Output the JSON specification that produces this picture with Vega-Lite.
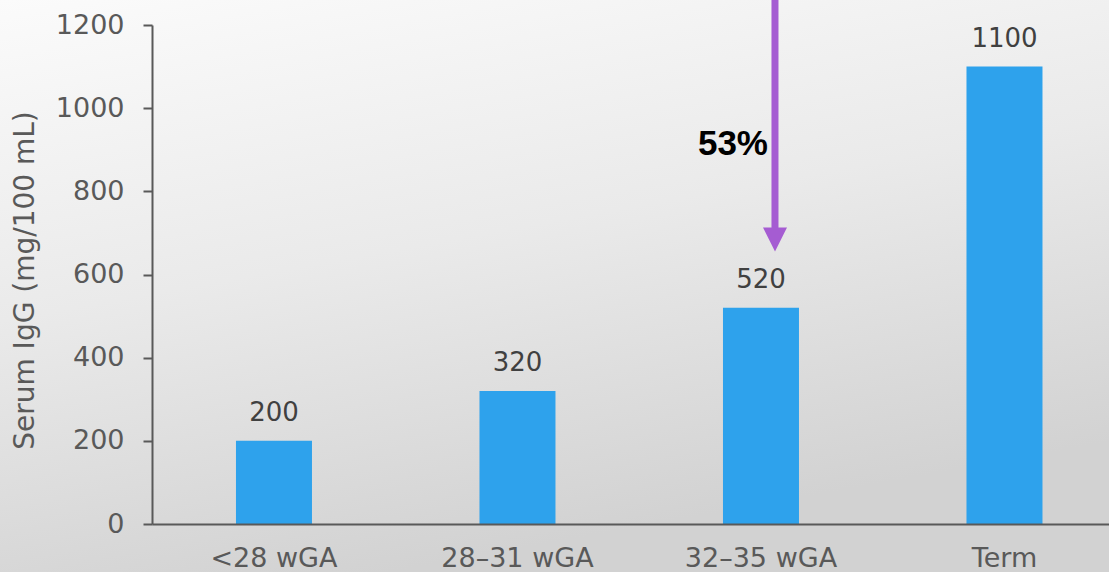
{
  "$schema": "https://vega.github.io/schema/vega-lite/v6.json",
  "width": 1109,
  "height": 499,
  "autosize": {"type": "none"},
  "padding": {"left": 0, "right": 0, "top": 25, "bottom": 48},
  "background": "#e6e6e6",
  "config": {"view": {"stroke": null}},
  "datasets": {
    "bars": [
      {"group": "<28 wGA", "igg": 200},
      {"group": "28–31 wGA", "igg": 320},
      {"group": "32–35 wGA", "igg": 520},
      {"group": "Term", "igg": 1100}
    ],
    "note": [
      {"group": "32–35 wGA", "label": "53%"}
    ],
    "bg": [
      {"part": "background"}
    ]
  },
  "resolve": {"scale": {"x": "shared", "y": "shared"}},
  "layer": [
    {
      "data": {"name": "bg"},
      "mark": {
        "type": "rect",
        "color": {
          "gradient": "linear",
          "x1": 0, "y1": 0, "x2": 0.35, "y2": 1,
          "stops": [
            {"offset": 0, "color": "#fbfbfb"},
            {"offset": 0.5, "color": "#eaeaea"},
            {"offset": 1, "color": "#d2d2d2"}
          ]
        }
      },
      "encoding": {
        "y": {"datum": 1262, "type": "quantitative", "scale": {"domain": [0, 1200], "nice": false}},
        "y2": {"datum": -116}
      }
    },
    {
      "data": {"name": "bars"},
      "mark": {"type": "bar", "color": "#2ea2ec"},
      "encoding": {
        "x": {
          "field": "group", "type": "nominal", "sort": null,
          "scale": {
            "domain": ["<28 wGA", "28–31 wGA", "32–35 wGA", "Term"],
            "range": [152, 1109],
            "paddingInner": 0.6879, "paddingOuter": 0.309, "align": 0.558, "round": false
          },
          "axis": {
            "title": null, "zindex": 1, "labelAngle": 0,
            "domain": true, "domainColor": "#595959", "domainWidth": 2,
            "ticks": false, "tickSize": 0, "labelPadding": 21,
            "labelFont": "DejaVu Sans", "labelFontSize": 27, "labelColor": "#595959"
          }
        },
        "y": {
          "field": "igg", "type": "quantitative",
          "scale": {"domain": [0, 1200], "nice": false},
          "axis": {
            "title": "Serum IgG (mg/100 mL)", "zindex": 1, "offset": -152, "format": "d",
            "values": [0, 200, 400, 600, 800, 1000, 1200], "grid": false,
            "domain": true, "domainColor": "#595959", "domainWidth": 2,
            "ticks": true, "tickColor": "#595959", "tickWidth": 2, "tickSize": 9,
            "labelPadding": 19, "labelFont": "DejaVu Sans", "labelFontSize": 27, "labelColor": "#595959",
            "titleFont": "DejaVu Sans", "titleFontSize": 28, "titleFontWeight": "normal", "titleColor": "#595959",
            "titleX": -119, "titleY": 255, "titleAngle": -90, "titleAlign": "center", "titleBaseline": "alphabetic"
          }
        }
      }
    },
    {
      "data": {"name": "bars"},
      "mark": {"type": "text", "baseline": "alphabetic", "align": "center", "dy": -19.5, "font": "DejaVu Sans", "fontSize": 26, "color": "#404040"},
      "encoding": {
        "x": {"field": "group", "type": "nominal", "sort": null},
        "y": {"field": "igg", "type": "quantitative"},
        "text": {"field": "igg", "type": "quantitative"}
      }
    },
    {
      "data": {"name": "note"},
      "mark": {"type": "rule", "color": "#a55cd2", "strokeWidth": 7, "xOffset": 14},
      "encoding": {
        "x": {"field": "group", "type": "nominal", "sort": null},
        "y": {"datum": 1262, "type": "quantitative"},
        "y2": {"datum": 711}
      }
    },
    {
      "data": {"name": "note"},
      "mark": {"type": "point", "shape": "M-1,-1L1,-1L0,1Z", "filled": true, "opacity": 1, "color": "#a55cd2", "size": 576, "xOffset": 14},
      "encoding": {
        "x": {"field": "group", "type": "nominal", "sort": null},
        "y": {"datum": 684, "type": "quantitative"}
      }
    },
    {
      "data": {"name": "note"},
      "mark": {"type": "text", "align": "right", "baseline": "alphabetic", "dx": 7, "font": "Liberation Sans", "fontWeight": "bold", "fontSize": 35, "color": "#000000"},
      "encoding": {
        "x": {"field": "group", "type": "nominal", "sort": null},
        "y": {"datum": 887, "type": "quantitative"},
        "text": {"field": "label", "type": "nominal"}
      }
    }
  ]
}
